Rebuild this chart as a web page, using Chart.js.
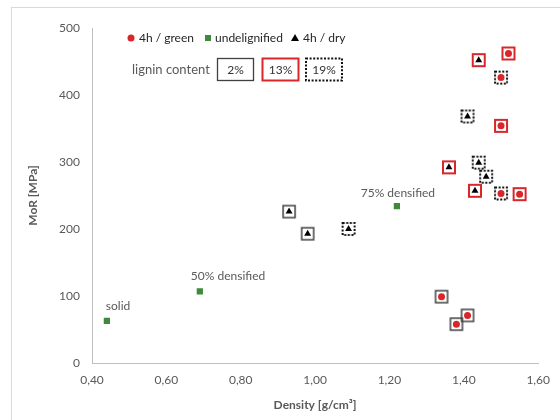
<!DOCTYPE html>
<html>
<head>
<meta charset="utf-8">
<script src="https://cdn.jsdelivr.net/npm/chart.js@4"></script>
<style>
  html, body { margin: 0; padding: 0; background: #fff; }
  #wrap { width: 560px; height: 420px; }
</style>
</head>
<body>
<div id="wrap"><canvas id="chart" width="560" height="420"></canvas></div>
<script>
// axis ticks
const xTicks = [0.4, 0.6, 0.8, 1.0, 1.2, 1.4, 1.6];
const xTickLabels = ["0,40", "0,60", "0,80", "1,00", "1,20", "1,40", "1,60"];
const yTicks = [0, 100, 200, 300, 400, 500];

// 4h / green (red circles)
const greenDensity = [1.52, 1.50, 1.50, 1.50, 1.55, 1.34, 1.41, 1.38];
const greenMoR     = [462, 426, 354, 253, 252, 99, 71, 58];
const greenLignin  = ["13%", "19%", "13%", "19%", "13%", "2%", "2%", "2%"];

// 4h / dry (black triangles)
const dryDensity = [1.44, 1.41, 1.44, 1.46, 1.36, 1.43, 0.93, 0.98, 1.09];
const dryMoR     = [452, 368, 299, 278, 292, 257, 226, 193, 200];
const dryLignin  = ["13%", "19%", "19%", "19%", "13%", "13%", "2%", "2%", "19%"];

// undelignified (green squares)
const undelignifiedDensity = [0.44, 0.69, 1.22];
const undelignifiedMoR     = [63, 107, 234];
const undelignifiedLabels  = ["solid", "50% densified", "75% densified"];

const seriesNames = ["4h / green", "undelignified", "4h / dry"];
const ligninLevels = ["2%", "13%", "19%"];

const RED = "#d8262b";
const GREEN = "#3f8a3a";
const FONT = "Lato";

// box marker images per lignin content
function boxImage(color, lw, dash) {
  const c = document.createElement("canvas");
  c.width = 20; c.height = 20;
  const g = c.getContext("2d");
  g.strokeStyle = color;
  g.lineWidth = lw;
  if (dash) g.setLineDash(dash);
  g.strokeRect(4, 4, 12, 12);
  return c;
}
const boxStyles = {
  "2%": boxImage("#404040", 1.5, null),
  "13%": boxImage(RED, 2, null),
  "19%": boxImage("#111", 2, [2, 1.6])
};

function pts(xs, ys) { return xs.map((x, i) => ({ x: x, y: ys[i] })); }

const allPoints = pts(greenDensity, greenMoR).map((p, i) => ({ ...p, l: greenLignin[i] }))
  .concat(pts(dryDensity, dryMoR).map((p, i) => ({ ...p, l: dryLignin[i] })));

const boxDatasets = ligninLevels.map(lvl => ({
  label: "lignin " + lvl,
  data: allPoints.filter(p => p.l === lvl).map(p => ({ x: p.x, y: p.y })),
  pointStyle: boxStyles[lvl],
  pointRadius: 10,
  showLine: false,
  order: 2
}));

// legend, annotations, outer frame
const overlayPlugin = {
  id: "overlay",
  beforeDraw(chart) {
    const ctx = chart.ctx;
    ctx.save();
    ctx.strokeStyle = "#d9d9d9";
    ctx.lineWidth = 1;
    ctx.strokeRect(11.5, 7.5, 700, 700);
    ctx.restore();
  },
  afterDraw(chart) {
    const ctx = chart.ctx;
    const xs = chart.scales.x, ys = chart.scales.y;
    ctx.save();
    // point annotations
    const offs = [[-1, -15, "left"], [-9, -15, "left"], [1, -13, "center"]];
    ctx.font = "12px " + FONT;
    ctx.fillStyle = "#595959";
    ctx.textBaseline = "middle";
    undelignifiedLabels.forEach((t, i) => {
      const px = xs.getPixelForValue(undelignifiedDensity[i]);
      const py = ys.getPixelForValue(undelignifiedMoR[i]);
      ctx.textAlign = offs[i][2];
      ctx.fillText(t, px + offs[i][0], py + offs[i][1]);
    });

    // series legend
    ctx.textAlign = "left";
    const ly = 38;
    ctx.fillStyle = RED;
    ctx.beginPath(); ctx.arc(131, ly, 3.5, 0, Math.PI * 2); ctx.fill();
    ctx.fillStyle = GREEN;
    ctx.fillRect(205, ly - 3, 6, 6);
    ctx.fillStyle = "#000";
    ctx.beginPath(); ctx.moveTo(295, ly - 4); ctx.lineTo(299, ly + 3); ctx.lineTo(291, ly + 3); ctx.closePath(); ctx.fill();
    ctx.fillStyle = "#262626";
    ctx.fillText(seriesNames[0], 139, ly);
    ctx.fillText(seriesNames[1], 215, ly);
    ctx.fillText(seriesNames[2], 303, ly);

    // lignin legend
    ctx.font = "13px " + FONT;
    ctx.fillStyle = "#595959";
    ctx.fillText("lignin content", 132, 70);
    const boxes = [[217.5, "#404040", 1.3, null], [262.5, RED, 2, null], [306, "#111", 2, [2, 1.6]]];
    ctx.font = "12px " + FONT;
    boxes.forEach((b, i) => {
      ctx.strokeStyle = b[1];
      ctx.lineWidth = b[2];
      ctx.setLineDash(b[3] || []);
      ctx.strokeRect(b[0], 58.5, 36, 22);
      ctx.fillStyle = "#333";
      ctx.textAlign = "center";
      ctx.fillText(ligninLevels[i], b[0] + 18, 70);
    });
    ctx.restore();
  }
};

new Chart(document.getElementById("chart"), {
  type: "scatter",
  data: {
    datasets: [
      {
        label: seriesNames[0],
        data: pts(greenDensity, greenMoR),
        pointStyle: "circle",
        pointRadius: 3.5,
        backgroundColor: RED,
        borderColor: RED,
        borderWidth: 0,
        order: 1
      },
      {
        label: seriesNames[1],
        data: pts(undelignifiedDensity, undelignifiedMoR),
        pointStyle: "rect",
        pointRadius: 4.4,
        backgroundColor: GREEN,
        borderColor: GREEN,
        borderWidth: 0,
        order: 1
      },
      {
        label: seriesNames[2],
        data: pts(dryDensity, dryMoR),
        pointStyle: "triangle",
        pointRadius: 4,
        backgroundColor: "#000",
        borderColor: "#000",
        borderWidth: 0,
        order: 1
      },
      ...boxDatasets
    ]
  },
  options: {
    responsive: false,
    animation: false,
    layout: { padding: { left: 0, top: 28, right: 21, bottom: 0 } },
    plugins: {
      legend: { display: false },
      tooltip: { enabled: false }
    },
    scales: {
      x: {
        type: "linear",
        min: 0.4,
        max: 1.6,
        afterBuildTicks: s => { s.ticks = xTicks.map(v => ({ value: v })); },
        afterFit: s => { s.height = 57; },
        grid: { display: false, drawTicks: false },
        border: { display: true, color: "#bfbfbf", width: 1 },
        ticks: {
          padding: 10,
          color: "#595959",
          font: { family: FONT, size: 12 },
          maxRotation: 0,
          callback: (v, i) => xTickLabels[i]
        },
        title: {
          display: true,
          text: "Density [g/cm³]",
          color: "#595959",
          font: { family: FONT, size: 12, weight: "bold" },
          padding: { top: 0, bottom: 8 }
        }
      },
      y: {
        min: 0,
        max: 500,
        afterBuildTicks: s => { s.ticks = yTicks.map(v => ({ value: v })); },
        afterFit: s => { s.width = 92; },
        grid: { display: false, drawTicks: false },
        border: { display: true, color: "#bfbfbf", width: 1 },
        ticks: {
          padding: 12,
          color: "#595959",
          font: { family: FONT, size: 12 }
        },
        title: {
          display: true,
          text: "MoR [MPa]",
          color: "#595959",
          font: { family: FONT, size: 12, weight: "bold" },
          padding: { top: 26, bottom: 0 }
        }
      }
    }
  },
  plugins: [overlayPlugin]
});
</script>
</body>
</html>
